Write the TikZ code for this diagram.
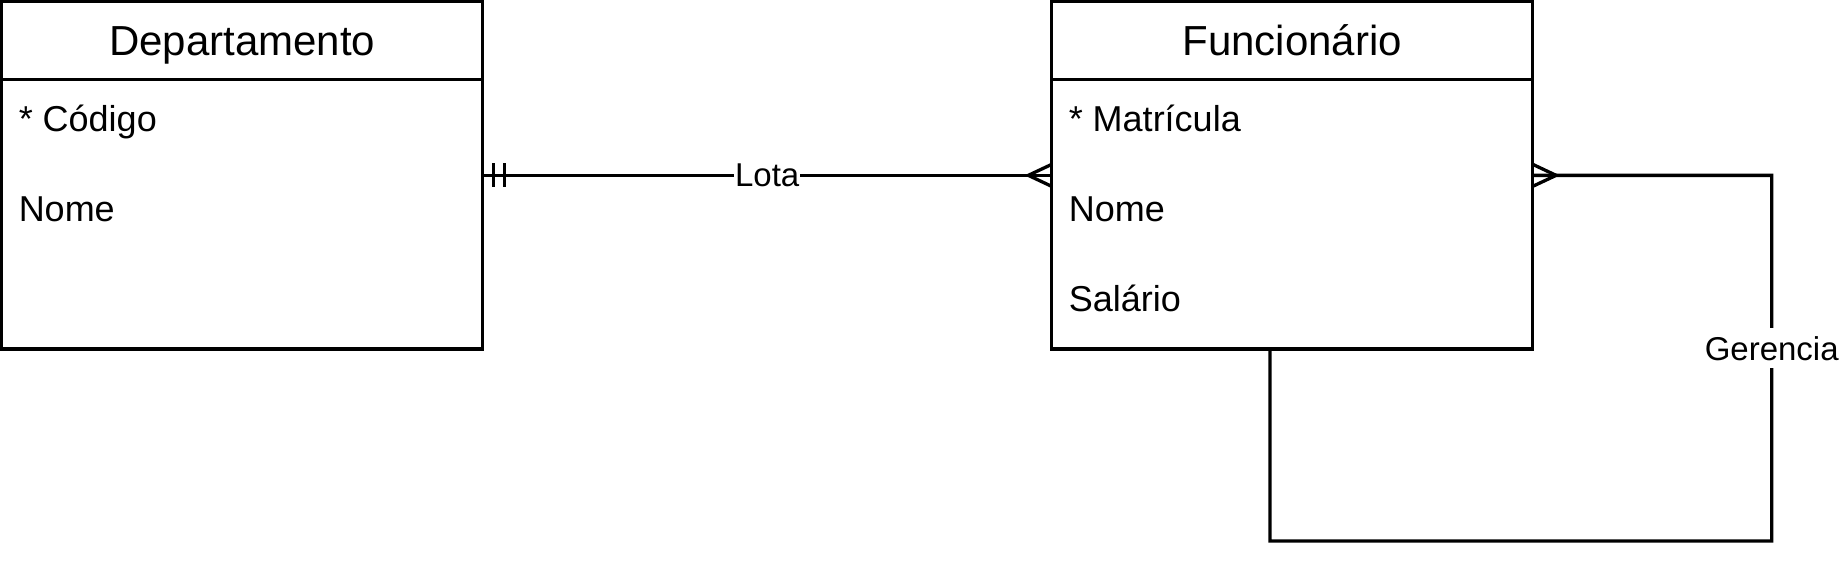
\documentclass[tikz,border=0pt]{standalone}
\usepackage{fontspec}
\setmainfont{Liberation Sans}
\begin{document}
\begin{tikzpicture}[x=1pt,y=-1pt, line width=3.3pt,
  entity/.style={draw, rectangle, minimum width=481pt, minimum height=347.3pt, anchor=north west, outer sep=0pt, inner sep=0pt},
  etitle/.style={font=\fontsize{42}{44}\selectfont, inner sep=0pt, anchor=base},
  attr/.style={font=\fontsize{36}{40}\selectfont, anchor=base west, inner sep=0pt},
  lbl/.style={font=\fontsize{33}{36}\selectfont, fill=white, inner xsep=1pt, inner ysep=8pt}]
\useasboundingbox (0,0) rectangle (1842,570);
% entities
\node[entity] (dep) at (1.7,1.7) {};
\node[entity] (fun) at (1051.7,1.7) {};
% headers
\draw ([yshift=-77.6pt]dep.north west) -- ([yshift=-77.6pt]dep.north east);
\draw ([yshift=-77.6pt]fun.north west) -- ([yshift=-77.6pt]fun.north east);
\node[etitle] (dept) at ([yshift=-53.8pt]dep.north) {Departamento};
\node[etitle] (funt) at ([yshift=-53.8pt]fun.north) {Funcionário};
% attributes
\node[attr] (dcod) at ([xshift=15.4pt,yshift=-130pt]dep.north west) {* Código};
\node[attr] (dnome) at ([xshift=15.4pt,yshift=-220pt]dep.north west) {Nome};
\node[attr] (fmat) at ([xshift=15.4pt,yshift=-130pt]fun.north west) {* Matrícula};
\node[attr] (fnome) at ([xshift=15.4pt,yshift=-220pt]fun.north west) {Nome};
\node[attr] (fsal) at ([xshift=15.4pt,yshift=-310pt]fun.north west) {Salário};
% Lota
\draw (dep.east) -- node[lbl] (lota) {Lota} (fun.west);
\draw ([xshift=10.8pt,yshift=12pt]dep.east) -- ([xshift=10.8pt,yshift=-12pt]dep.east);
\draw ([xshift=21.8pt,yshift=12pt]dep.east) -- ([xshift=21.8pt,yshift=-12pt]dep.east);
\draw ([yshift=11pt]fun.west) -- ([xshift=-23.4pt]fun.west) -- ([yshift=-11pt]fun.west);
% Gerencia (self relation)
\coordinate (g1) at (1270,541);
\coordinate (g2) at (1771.7,541);
\coordinate (g3) at (1771.7,175.35);
\draw (fun.south -| g1) -- (g1) -- (g2) -- node[lbl,pos=0.527] (ger) {Gerencia} (g3) -- (fun.east);
\draw ([yshift=11pt]fun.east) -- ([xshift=23.4pt]fun.east) -- ([yshift=-11pt]fun.east);
\end{tikzpicture}
\end{document}
